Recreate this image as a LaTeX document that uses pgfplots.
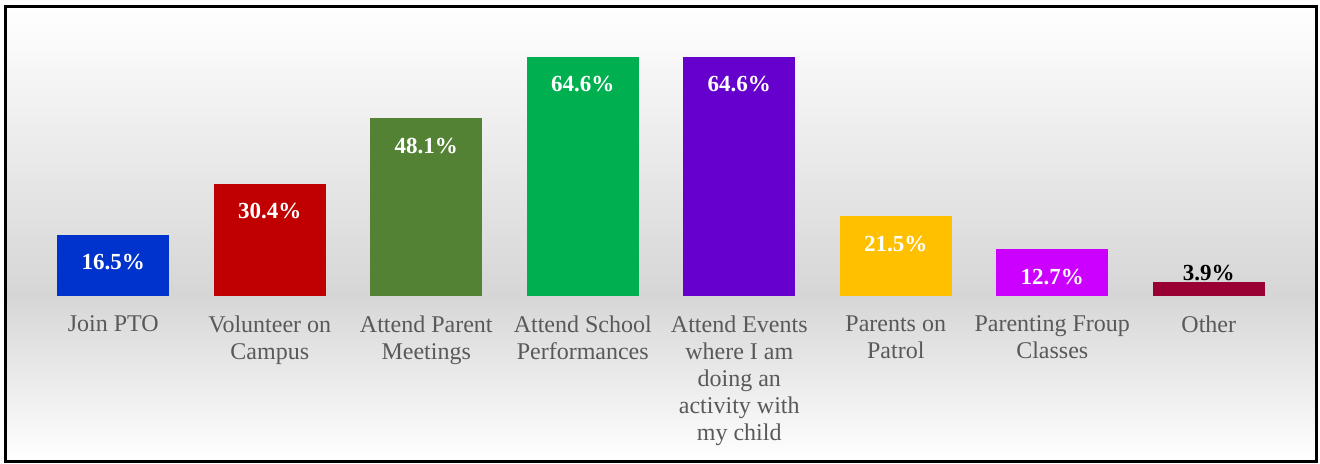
\documentclass[border=0pt]{standalone}
\usepackage{pgfplots}
\pgfplotsset{compat=1.18}
\usepackage{fontspec}
\setmainfont{Liberation Serif}
\definecolor{c1}{HTML}{0033CC}
\definecolor{c2}{HTML}{C00000}
\definecolor{c3}{HTML}{548235}
\definecolor{c4}{HTML}{00B050}
\definecolor{c5}{HTML}{6600CC}
\definecolor{c6}{HTML}{FFC000}
\definecolor{c7}{HTML}{CC00FF}
\definecolor{c8}{HTML}{990033}
\definecolor{bggray}{HTML}{D6D6D6}
\definecolor{lblgray}{HTML}{595959}
\begin{document}
\begin{tikzpicture}
\useasboundingbox (0pt,0pt) rectangle (660pt,232pt);
\shade[top color=white, bottom color=bggray] (2.5pt,85pt) rectangle (658pt,228.5pt);
\shade[top color=bggray, bottom color=white] (2.5pt,1pt) rectangle (658pt,85pt);
\begin{axis}[
  at={(17.5pt,84pt)}, anchor=south west,
  scale only axis, width=626pt, height=129.5pt,
  xmin=-0.5, xmax=7.5, ymin=0, ymax=70,
  ybar, bar width=56pt, bar shift=0pt,
  clip=false,
  axis line style={draw=none},
  tick style={draw=none},
  ytick=\empty,
  xtick={0,1,2,3,4,5,6,7},
  xticklabels={Join PTO, Volunteer on\\Campus, Attend Parent\\Meetings, Attend School\\Performances, Attend Events\\where I am\\doing an\\activity with\\my child, Parents on\\Patrol, Parenting Froup\\Classes, Other},
  xticklabel style={text=lblgray, font=\fontsize{12}{13.5}\selectfont, align=center, yshift=-2pt},
  /pgf/number format/assume math mode=true,
  nodes near coords={\pgfmathprintnumber[fixed,precision=1,fixed zerofill,assume math mode=true]{\pgfplotspointmeta}\%},
  every node near coord/.append style={anchor=base, yshift=-17.5pt, text=white, font=\fontsize{11.5}{13}\selectfont\bfseries},
]
\addplot[fill=c1, draw=none] coordinates {(0,16.5)};
\addplot[fill=c2, draw=none] coordinates {(1,30.4)};
\addplot[fill=c3, draw=none] coordinates {(2,48.1)};
\addplot[fill=c4, draw=none] coordinates {(3,64.6)};
\addplot[fill=c5, draw=none] coordinates {(4,64.6)};
\addplot[fill=c6, draw=none] coordinates {(5,21.5)};
\addplot[fill=c7, draw=none] coordinates {(6,12.7)};
\addplot[fill=c8, draw=none, every node near coord/.append style={text=black, yshift=17.5pt+0.5pt}] coordinates {(7,3.9)};
\end{axis}
\draw[line width=1.5pt] (2.5pt,1pt) rectangle (658pt,228.5pt);
\end{tikzpicture}
\end{document}
